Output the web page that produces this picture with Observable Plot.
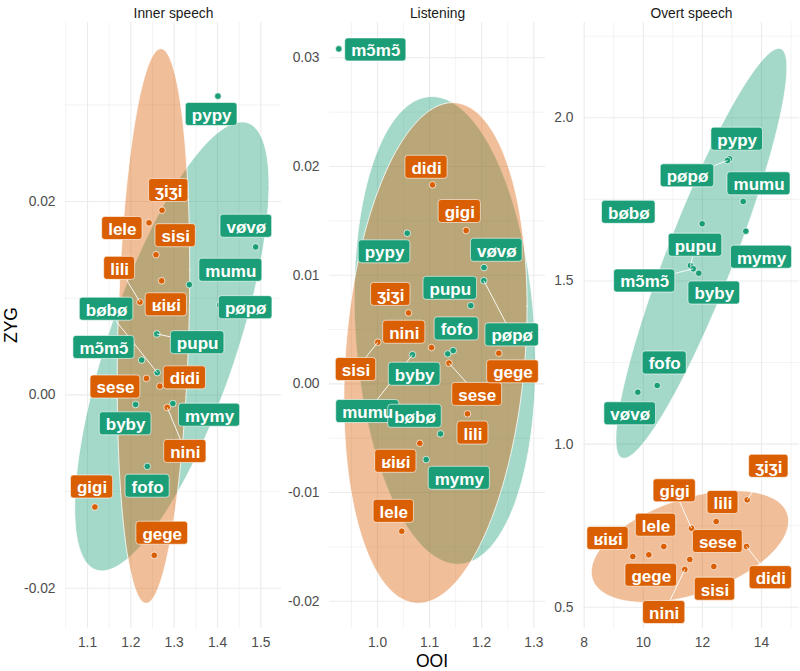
<!DOCTYPE html>
<html>
<head>
<meta charset="utf-8">
<script src="https://cdn.jsdelivr.net/npm/d3@7"></script>
<script src="https://cdn.jsdelivr.net/npm/@observablehq/plot@0.6"></script>
<style>
  html, body { margin: 0; padding: 0; background: #fff; }
  #chart { position: relative; width: 800px; height: 671px; font-family: "Liberation Sans", Arial, Helvetica, sans-serif; }
  .axis-title { position: absolute; font-size: 17.5px; color: #000; white-space: nowrap; }
  #chart svg g[aria-label*="axis"] text, #chart svg g[aria-label*="axis"] { font-size: 13.8px !important; fill: #4d4d4d; }
</style>
</head>
<body>
<div id="chart">
  <div class="axis-title" id="xt" style="left:432px; top:661px; transform:translate(-50%,-50%);">OOI</div>
  <div class="axis-title" id="yt" style="left:11px; top:325px; transform:translate(-50%,-50%) rotate(-90deg);">ZYG</div>
</div>
<script>
// ---------------- DATA ----------------
const words = ["pypy","vøvø","mumu","pøpø","bøbø","pupu","mɔ̃mɔ̃","byby","mymy","fofo",
               "ʒiʒi","lele","sisi","lili","ʁiʁi","sese","didi","nini","gigi","gege"];
const wordGroup = ["labial","labial","labial","labial","labial","labial","labial","labial","labial","labial",
                   "non-labial","non-labial","non-labial","non-labial","non-labial","non-labial","non-labial","non-labial","non-labial","non-labial"];
const groups = ["labial", "non-labial"];
const facets = ["Inner speech", "Listening", "Overt speech"];

// Inner speech
const innerOOI = [1.401, 1.488, 1.335, 1.405, 1.261, 1.260, 1.225, 1.211, 1.297, 1.238,
                  1.272, 1.242, 1.258, 1.221, 1.271, 1.236, 1.267, 1.284, 1.117, 1.254];
const innerZYG = [0.0309, 0.0153, 0.0114, 0.0093, 0.0023, 0.0063, 0.0036, -0.0010, -0.0009, -0.0074,
                  0.0191, 0.0178, 0.0145, 0.0096, 0.0118, 0.0017, 0.0009, -0.0013, -0.0116, -0.0166];
// Listening
const listenOOI = [1.057, 1.2044, 1.0672, 1.204, 1.1209, 1.1791, 0.9257, 1.1349, 1.0935, 1.1453,
                   1.0595, 1.0466, 1.0006, 1.1727, 1.0812, 1.1372, 1.1056, 1.1036, 1.1702, 1.2328];
const listenZYG = [0.01386, 0.0107, 0.00268, 0.0095, -0.0046, 0.0072, 0.03082, 0.00276, -0.00697, 0.00306,
                   0.00653, -0.01356, 0.00383, -0.00276, -0.00547, 0.00191, 0.01831, 0.00334, 0.01411, 0.00282];
// Overt speech
const overtOOI = [12.917, 9.814, 13.381, 12.849, 11.993, 11.597, 11.689, 11.878, 13.469, 10.470,
                  13.516, 10.694, 12.386, 12.467, 9.645, 11.574, 13.492, 11.404, 11.631, 10.186];
const overtZYG = [1.8743, 1.1591, 1.7435, 1.8691, 1.6751, 1.5473, 1.5372, 1.5237, 1.6525, 1.1796,
                  0.8293, 0.6862, 0.6249, 0.7628, 0.6555, 0.6463, 0.6862, 0.6157, 0.7423, 0.6607];

// tick values
const innerXTicks = [1.1, 1.2, 1.3, 1.4, 1.5];
const innerXMinor = [1.05, 1.15, 1.25, 1.35, 1.45];
const innerYTicks = [-0.02, 0, 0.02];
const innerYMinor = [-0.01, 0.01, 0.03];
const listenXTicks = [1.0, 1.1, 1.2, 1.3];
const listenXMinor = [0.95, 1.05, 1.15, 1.25];
const listenYTicks = [-0.02, -0.01, 0, 0.01, 0.02, 0.03];
const listenYMinor = [-0.015, -0.005, 0.005, 0.015, 0.025];
const overtXTicks = [8, 10, 12, 14];
const overtXMinor = [9, 11, 13, 15];
const overtYTicks = [0.5, 1.0, 1.5, 2.0];
const overtYMinor = [0.75, 1.25, 1.75, 2.25];

const innerNudgeX = [-6.3, -9.3, 41.5, 26, -50.7, 40.8, -37.7, -10, 36.7, 0.3, 6.7, -26.7, 19.7, -20.3, 4.7, -31, 25, 18.1, -2.8, 8];
const innerNudgeY = [18.3, -20.7, -14.4, 2.7, -63.4, 8.7, -12.6, 19.3, 11.6, 19.8, -19.7, 5.7, -19, -33.7, 24, 8.6, -8.3, 44, -20, -22.1];
const innerSegs = ["lili", "bøbø", "pupu", "nini"];
const listenNudgeX = [-22.7, 12.8, -44.8, 28.4, -25.5, -20.5, 37, -33.1, 33.1, 3.5, -17.7, -8, -21.8, 5.5, -24, 28.2, -6, -27.2, -6.4, 14.2];
const listenNudgeY = [18.6, -17.3, 56.8, 54.3, -17.6, -17.3, 1, 20.4, 18.7, -21.7, -18.5, -19.9, 27.3, 19.2, 18, 31.3, -17.6, -15.3, -19, 18.6];
const listenSegs = ["mumu", "pøpø", "sisi", "sese"];
const overtNudgeX = [7.7, -7.6, 15.8, -40, -73.4, 5, -48.5, 15.5, 15.7, 7.5, 21.6, -7.8, 1.2, 6.8, -24.8, 28, 24.3, -20.6, -16.8, 2.5];
const overtNudgeY = [-19.6, 21.6, -17.7, 15.3, -11.5, -20.3, 12.2, 19.8, 26, -22.5, -33.5, -21.3, 22.7, -19, -18, -18, 31.2, 43, -37.4, 20.4];
const overtSegs = ["pøpø", "pupu", "mɔ̃mɔ̃", "gigi", "ʒiʒi", "didi", "nini"];

// ---------------- STYLE ----------------
const palette = ["#1B9E77", "#D95F02"];
const FONT = "'Liberation Sans', Arial, Helvetica, sans-serif";
const PANEL_W = 216, PANEL_H = 606, M_TOP = 22, M_LEFT = 60, M_RIGHT = 1, M_BOTTOM = 43;

const panels = [
  {title: facets[0], left: 65, x: innerOOI, y: innerZYG, xDomain: [1.0492, 1.5477], yDomain: [-0.02417, 0.03852],
   xTicks: innerXTicks, xMinor: innerXMinor, yTicks: innerYTicks, yMinor: innerYMinor,
   xFmt: d => d.toFixed(1), yFmt: d => d.toFixed(2), nx: innerNudgeX, ny: innerNudgeY, segs: innerSegs},
  {title: facets[1], left: 329, x: listenOOI, y: listenZYG, xDomain: [0.90787, 1.32246], yDomain: [-0.02251, 0.03325],
   xTicks: listenXTicks, xMinor: listenXMinor, yTicks: listenYTicks, yMinor: listenYMinor,
   xFmt: d => d.toFixed(1), yFmt: d => d.toFixed(2), nx: listenNudgeX, ny: listenNudgeY, segs: listenSegs},
  {title: facets[2], left: 583, x: overtOOI, y: overtZYG, xDomain: [7.976, 15.286], yDomain: [0.4349, 2.292],
   xTicks: overtXTicks, xMinor: overtXMinor, yTicks: overtYTicks, yMinor: overtYMinor,
   xFmt: d => String(d), yFmt: d => d.toFixed(1), nx: overtNudgeX, ny: overtNudgeY, segs: overtSegs}
];

// robust (multivariate t) covariance, as MASS::cov.trob
function covTrob(xs, ys, nu = 5, maxit = 25, tol = 0.01) {
  const n = xs.length, p = 2;
  let loc = [d3.mean(xs), d3.mean(ys)];
  let w = new Array(n).fill(1);
  let X;
  for (let it = 0; it < maxit; it++) {
    const w0 = w.slice();
    X = xs.map((x, i) => [x - loc[0], ys[i] - loc[1]]);
    const sw = d3.sum(w);
    let a = 0, b = 0, c = 0;
    X.forEach(([u, v], i) => { a += w[i] * u * u / sw; b += w[i] * u * v / sw; c += w[i] * v * v / sw; });
    const det = a * c - b * b;
    const Q = X.map(([u, v]) => (c * u * u - 2 * b * u * v + a * v * v) / det);
    w = Q.map(q => (nu + p) / (nu + q));
    const sw2 = d3.sum(w);
    loc = [d3.sum(xs.map((x, i) => w[i] * x)) / sw2, d3.sum(ys.map((y, i) => w[i] * y)) / sw2];
    if (w.every((wi, i) => Math.abs(wi - w0[i]) < tol)) break;
  }
  let a = 0, b = 0, c = 0;
  X.forEach(([u, v], i) => { a += w[i] * u * u; b += w[i] * u * v; c += w[i] * v * v; });
  return {center: loc, cov: [a / n, b / n, c / n]};
}

// stat_ellipse (type "t", level 0.95)
function ellipse(xs, ys, level = 0.95, segments = 200) {
  const n = xs.length;
  const {center, cov: [s11, s12, s22]} = covTrob(xs, ys);
  const dfd = n - 1;
  const f = (dfd / 2) * (Math.pow(1 - level, -2 / dfd) - 1); // qf(level, 2, dfd)
  const radius = Math.sqrt(2 * f);
  const r11 = Math.sqrt(s11), r12 = s12 / r11, r22 = Math.sqrt(Math.max(0, s22 - r12 * r12));
  return d3.range(segments + 1).map(k => {
    const t = 2 * Math.PI * k / segments, c = Math.cos(t), s = Math.sin(t);
    return {x: center[0] + radius * c * r11, y: center[1] + radius * (c * r12 + s * r22)};
  });
}

const ctx = document.createElement("canvas").getContext("2d");
ctx.font = "bold 17px " + FONT;
const measure = t => ctx.measureText(t).width;

const chart = document.getElementById("chart");

panels.forEach(P => {
  const width = M_LEFT + PANEL_W + M_RIGHT, height = 671;
  const xs = d3.scaleLinear(P.xDomain, [M_LEFT, M_LEFT + PANEL_W]);
  const ys = d3.scaleLinear(P.yDomain, [M_TOP + PANEL_H, M_TOP]);
  const rows = words.map((w, i) => ({word: w, group: wordGroup[i], x: P.x[i], y: P.y[i]}));
  const ells = groups.map(g => {
    const r = rows.filter(d => d.group === g);
    return ellipse(r.map(d => d.x), r.map(d => d.y));
  });
  const bh = 23;
  const boxes = rows.map((d, i) => {
    const sx = xs(d.x), sy = ys(d.y);
    const cx = sx + P.nx[i], cy = sy + P.ny[i];
    const bw = measure(d.word) + 12;
    return {...d, sx, sy, pcx: cx, pcy: cy, bw,
      cx: xs.invert(cx), cy: ys.invert(cy),
      x1: xs.invert(cx - bw / 2), x2: xs.invert(cx + bw / 2),
      y1: ys.invert(cy + bh / 2), y2: ys.invert(cy - bh / 2)};
  });
  const segs = boxes.filter(b => P.segs.includes(b.word)).map(b => {
    const dx = b.sx - b.pcx, dy = b.sy - b.pcy;
    const tx = dx === 0 ? Infinity : Math.abs((b.bw / 2) / dx);
    const ty = dy === 0 ? Infinity : Math.abs((bh / 2) / dy);
    const t = Math.min(tx, ty);
    const ex = b.pcx + dx * t, ey = b.pcy + dy * t;
    return {x1: xs.invert(ex), y1: ys.invert(ey), x2: b.x, y2: b.y};
  });

  const svg = Plot.plot({
    width, height,
    marginLeft: M_LEFT, marginRight: M_RIGHT, marginTop: M_TOP, marginBottom: M_BOTTOM,
    style: {background: "transparent", overflow: "visible", fontFamily: FONT, fontSize: "13.8px", color: "#4d4d4d"},
    x: {domain: P.xDomain, ticks: P.xTicks, tickFormat: P.xFmt, tickSize: 0, tickPadding: 9, label: null},
    y: {domain: P.yDomain, ticks: P.yTicks, tickFormat: P.yFmt, tickSize: 0, tickPadding: 10, label: null},
    color: {domain: groups, range: palette},
    marks: [
      Plot.ruleX(P.xMinor, {stroke: "#ebebeb", strokeWidth: 0.6}),
      Plot.ruleY(P.yMinor, {stroke: "#ebebeb", strokeWidth: 0.6}),
      Plot.ruleX(P.xTicks, {stroke: "#ebebeb", strokeWidth: 1.1}),
      Plot.ruleY(P.yTicks, {stroke: "#ebebeb", strokeWidth: 1.1}),
      ...ells.map((e, gi) => Plot.line(e, {x: "x", y: "y", curve: "linear-closed", fill: palette[gi], fillOpacity: 0.4,
                                           stroke: "white", strokeWidth: 0.8, clip: true})),
      Plot.dot(rows, {x: "x", y: "y", fill: "group", r: 3.3, stroke: "white", strokeWidth: 0.7}),
      Plot.link(segs, {x1: "x1", y1: "y1", x2: "x2", y2: "y2", stroke: "white", strokeWidth: 0.9}),
      Plot.rect(boxes, {x1: "x1", x2: "x2", y1: "y1", y2: "y2", fill: "group", stroke: "white", strokeWidth: 0.6, rx: 3}),
      Plot.text(boxes, {x: "cx", y: "cy", text: "word", fill: "white", fontWeight: "bold", fontSize: 17, fontFamily: FONT, dy: 1}),
      Plot.text([P.title], {text: d => d, frameAnchor: "top", dy: -14, fill: "#1a1a1a", fontSize: 13.8})
    ]
  });
  svg.style.position = "absolute";
  svg.style.left = (P.left - M_LEFT) + "px";
  svg.style.top = "0px";
  chart.appendChild(svg);
});
</script>
</body>
</html>
